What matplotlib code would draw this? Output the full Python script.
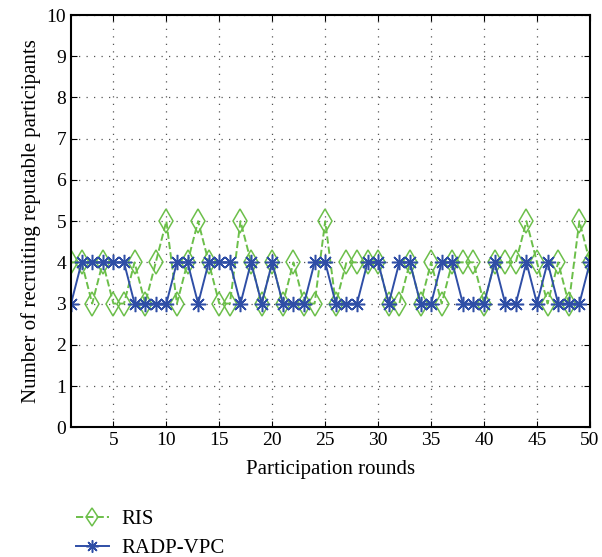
import matplotlib.pyplot as plt

plt.rcParams['font.family'] = ['Liberation Serif', 'DejaVu Serif']

rounds = list(range(1, 51))
ris = [4, 4, 3, 4, 3, 3, 4, 3, 4, 5,
       3, 4, 5, 4, 3, 3, 5, 4, 3, 4,
       3, 4, 3, 3, 5, 3, 4, 4, 4, 4,
       3, 3, 4, 3, 4, 3, 4, 4, 4, 3,
       4, 4, 4, 5, 4, 3, 4, 3, 5, 4]
radp = [3, 4, 4, 4, 4, 4, 3, 3, 3, 3,
        4, 4, 3, 4, 4, 4, 3, 4, 3, 4,
        3, 3, 3, 4, 4, 3, 3, 3, 4, 4,
        3, 4, 4, 3, 3, 4, 4, 3, 3, 3,
        4, 3, 3, 4, 3, 4, 3, 3, 3, 4]
labels = ["RIS", "RADP-VPC"]

green = '#6cbf4a'
blue = '#2f4ea6'

fig = plt.figure(figsize=(6.02, 5.57), dpi=100)
ax = fig.add_axes([0.118, 0.233, 0.862, 0.740])

ax.plot(rounds, ris, linestyle='--', color=green, linewidth=1.4,
        marker='d', markersize=12, markerfacecolor='none',
        markeredgecolor=green, markeredgewidth=1.1, label=labels[0])
ax.plot(rounds, radp, linestyle='-', color=blue, linewidth=1.4,
        marker=(8, 2, 0), markersize=11, markeredgecolor=blue,
        markeredgewidth=1.1, label=labels[1])

ax.set_xlim(1, 50)
ax.set_ylim(0, 10)
ax.set_xticks(range(5, 51, 5))
ax.set_yticks(range(0, 11))
ax.grid(True, linestyle=(0, (1, 5)), color='#555555', linewidth=0.9)
ax.tick_params(direction='in', top=True, right=True, labelsize=14, length=4)
for sp in ax.spines.values():
    sp.set_linewidth(1.5)

ax.set_xlabel("Participation rounds", fontsize=15, labelpad=8)
ax.set_ylabel("Number of recruiting reputable participants", fontsize=15)

fig.legend(loc='upper left', bbox_to_anchor=(0.112, 0.1), frameon=False,
           fontsize=15, handlelength=1.6, handletextpad=0.6,
           labelspacing=0.45, borderaxespad=0, markerscale=0.8)

fig.savefig("out.png", dpi=100)
